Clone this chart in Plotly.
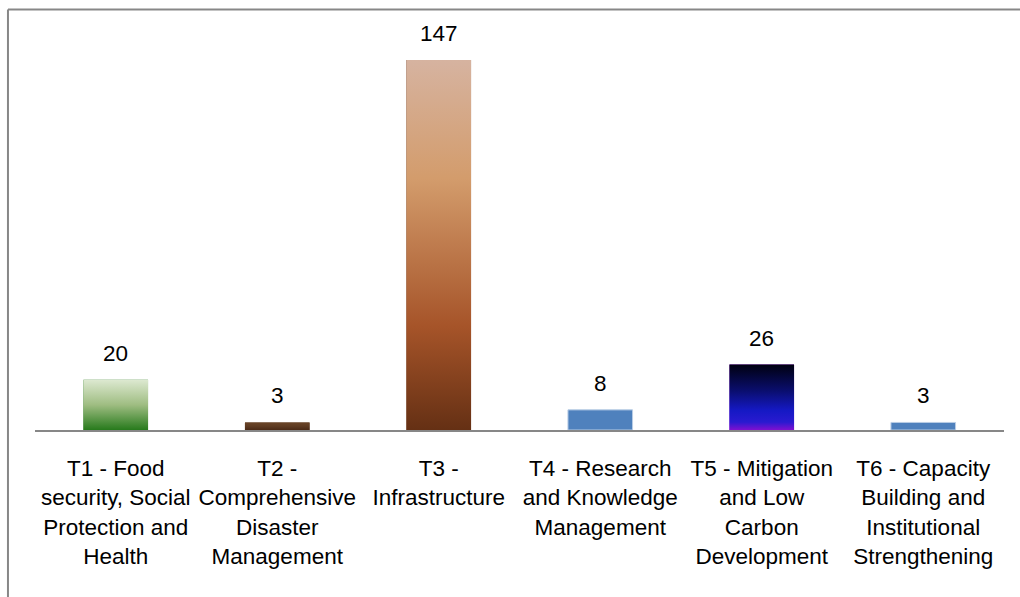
import plotly.graph_objects as go

# Theme labels and project counts
categories = [
    "T1 - Food<br>security, Social<br>Protection and<br>Health",
    "T2 -<br>Comprehensive<br>Disaster<br>Management",
    "T3 -<br>Infrastructure",
    "T4 - Research<br>and Knowledge<br>Management",
    "T5 - Mitigation<br>and Low<br>Carbon<br>Development",
    "T6 - Capacity<br>Building and<br>Institutional<br>Strengthening",
]
counts = [20, 3, 147, 8, 26, 3]

# Fill styles per bar: solid colour or a vertical gradient (bottom -> top)
solid_colors = ["#2b7a1f", "#5a3820", "#653014", "#4F81BD", "#8010d0", "#4F81BD"]
gradients = {
    0: [[0, "#277a1c"], [0.5, "#9fbd82"], [1, "#dde9d1"]],
    1: [[0, "#4a2a16"], [0.5, "#5e3b22"], [1, "#6b4528"]],
    2: [[0, "#653014"], [0.28, "#a65429"], [0.68, "#d39c6c"], [1, "#d6b3a0"]],
    4: [[0, "#8010d0"], [0.12, "#2a1ad0"], [0.3, "#1519c4"], [0.6, "#0a0e6e"], [1, "#000010"]],
}

BAR_W = 0.40
FONT = "Liberation Sans, Arial, sans-serif"
FSIZE = 22.5
xs = list(range(len(counts)))

fig = go.Figure()
fig.add_trace(go.Bar(
    x=xs, y=counts, width=BAR_W,
    marker=dict(color=solid_colors,
                line=dict(color=["rgba(0,0,0,0)"] * 3 + ["#b9cde5", "rgba(0,0,0,0)", "#b9cde5"],
                          width=1)),
    hoverinfo="skip", showlegend=False,
))

# Gradient-filled bars drawn as filled rectangles on the same axes
for i, scale in gradients.items():
    v = counts[i]
    x0, x1 = xs[i] - BAR_W / 2, xs[i] + BAR_W / 2
    fig.add_trace(go.Scatter(
        x=[x0, x1, x1, x0, x0], y=[0, 0, v, v, 0],
        mode="lines", line=dict(width=0), fill="toself",
        fillgradient=dict(type="vertical", colorscale=scale, start=0, stop=v),
        hoverinfo="skip", showlegend=False,
    ))

# Value labels above the bars
for x, v in zip(xs, counts):
    fig.add_annotation(x=x, y=v, text=str(v), showarrow=False,
                       yanchor="bottom", yshift=12,
                       font=dict(family=FONT, size=FSIZE, color="#000000"))

# Outer frame (left and top edges)
frame = dict(color="#878787", width=2)
fig.add_shape(type="line", xref="paper", yref="paper",
              x0=-0.0279, x1=-0.0279, y0=-0.5, y1=1.0408, line=frame)
fig.add_shape(type="line", xref="paper", yref="paper",
              x0=-0.0279, x1=1.1, y0=1.0408, y1=1.0408, line=frame)

fig.update_layout(
    width=1020, height=597,
    margin=dict(l=35, r=16, t=26, b=167),
    paper_bgcolor="white", plot_bgcolor="white",
    font=dict(family=FONT, size=FSIZE, color="#000000"),
    xaxis=dict(range=[-0.5, 5.5], tickmode="array", tickvals=xs, ticktext=categories,
               showline=True, linecolor="#878787", linewidth=2, showgrid=False,
               zeroline=False, ticks="", tickangle=0, ticklabelstandoff=17,
               tickfont=dict(family=FONT, size=FSIZE, color="#000000")),
    yaxis=dict(range=[0, 160.5], visible=False, showgrid=False, zeroline=False),
)

fig.write_html("out.html")
